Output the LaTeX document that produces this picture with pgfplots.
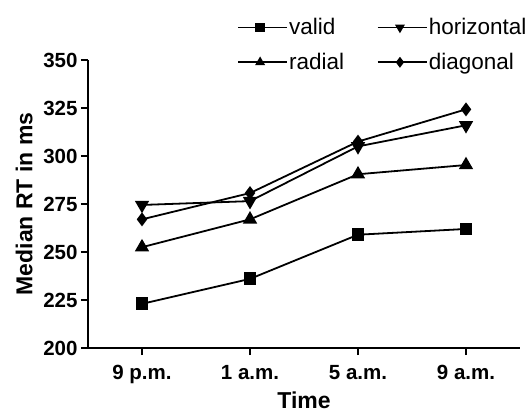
\documentclass[border=0pt]{standalone}
\usepackage{fontspec}
\setmainfont{Liberation Sans}
\usepackage{pgfplots}
\pgfplotsset{compat=1.18}

\begin{document}
\begin{tikzpicture}
  \begin{axis}[
    scale only axis,
    width=432pt, height=288pt,
    xmin=-0.5, xmax=3.5,
    ymin=200, ymax=350,
    axis x line*=bottom,
    axis y line*=left,
    axis line style={line width=2.6pt},
    xtick={0,1,2,3},
    xticklabels={9 p.m., 1 a.m., 5 a.m., 9 a.m.},
    ytick={200,225,250,275,300,325,350},
    tick align=outside,
    major tick length=7pt,
    every tick/.style={black, line width=2.4pt},
    /pgf/number format/assume math mode=true,
    ticklabel style={font=\fontsize{20.5}{23}\selectfont\bfseries},
    xticklabel style={yshift=-7pt},
    xlabel={Time},
    ylabel={Median RT in ms},
    label style={font=\fontsize{23}{26}\selectfont\bfseries},
    xlabel style={at={(axis description cs:0.5,-0.181)}, anchor=center},
    ylabel style={at={(axis description cs:-0.148,0.5)}, anchor=center},
    legend columns=2,
    legend cell align=left,
    legend style={draw=none, fill=none,
      at={(rel axis cs:0.338,1.155)}, anchor=north west,
      nodes={font=\fontsize{22.5}{26}\selectfont, inner sep=1pt},
      /tikz/every even column/.append style={column sep=32pt},
      row sep=15pt},
    legend image code/.code={
      \draw[#1, mark size=4pt, mark repeat=2, mark phase=2]
        plot coordinates {(0pt,0pt) (22pt,0pt) (44pt,0pt)};
      \path (0pt,0pt) -- (49pt,0pt);},
    every axis plot/.append style={black, line width=1.8pt},
    clip=false,
  ]
    \addplot[mark=square*, mark size=5.5pt]
      coordinates {(0,223) (1,236) (2,259) (3,262)};
    \addlegendentry{valid}
    \addplot[mark=triangle*, mark size=6.5pt, mark options={rotate=180}]
      coordinates {(0,274.5) (1,276.5) (2,305) (3,316)};
    \addlegendentry{horizontal}
    \addplot[mark=triangle*, mark size=6.5pt]
      coordinates {(0,252.5) (1,267) (2,290.5) (3,295.3)};
    \addlegendentry{radial}
    \addplot[mark=diamond*, mark size=5.5pt]
      coordinates {(0,267) (1,280.7) (2,307.5) (3,324.3)};
    \addlegendentry{diagonal}
  \end{axis}
  \pgfresetboundingbox
  \path (-88pt,-67pt) rectangle (444pt,348pt);
\end{tikzpicture}
\end{document}
